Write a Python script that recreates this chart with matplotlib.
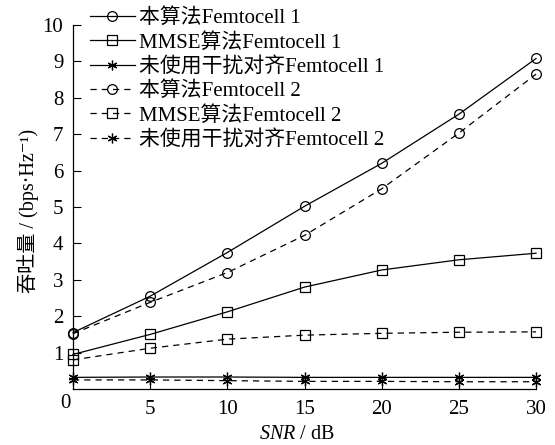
import matplotlib
matplotlib.use('Agg')
import matplotlib.pyplot as plt
from matplotlib.transforms import offset_copy

plt.rcParams['font.family'] = ['Liberation Serif', 'Noto Sans CJK SC', 'DejaVu Serif']
plt.rcParams['mathtext.fontset'] = 'custom'
plt.rcParams['mathtext.it'] = 'Liberation Serif:italic'
plt.rcParams['mathtext.rm'] = 'Liberation Serif'

snr = [0, 5, 10, 15, 20, 25, 30]
prop_f1 = [1.55, 2.55, 3.75, 5.02, 6.20, 7.55, 9.08]
mmse_f1 = [0.95, 1.50, 2.12, 2.80, 3.27, 3.55, 3.73]
none_f1 = [0.32, 0.33, 0.33, 0.32, 0.32, 0.32, 0.32]
prop_f2 = [1.52, 2.38, 3.20, 4.22, 5.50, 7.03, 8.65]
mmse_f2 = [0.80, 1.12, 1.37, 1.48, 1.53, 1.56, 1.57]
none_f2 = [0.25, 0.25, 0.23, 0.21, 0.21, 0.20, 0.20]

labels = ['本算法Femtocell 1', 'MMSE算法Femtocell 1', '未使用干扰对齐Femtocell 1',
          '本算法Femtocell 2', 'MMSE算法Femtocell 2', '未使用干扰对齐Femtocell 2']
xticks = [5, 10, 15, 20, 25, 30]
yticks = [1, 2, 3, 4, 5, 6, 7, 8, 9, 10]

fig = plt.figure(figsize=(5.55, 4.45), dpi=100)
ax = fig.add_axes([0.1315, 0.1258, 0.8343, 0.818])

series = [prop_f1, mmse_f1, none_f1, prop_f2, mmse_f2, none_f2]
markers = ['o', 's', (6, 2, 0), 'o', 's', (6, 2, 0)]
styles = ['-', '-', '-', (0, (5, 4)), (0, (5, 4)), (0, (5, 4))]
msizes = [7, 7, 7, 7, 7, 7]
for ys, mk, ls, ms, lab in zip(series, markers, styles, msizes, labels):
    ax.plot(snr, ys, color='black', linestyle=ls, linewidth=0.9, marker=mk,
            markersize=ms, markerfacecolor='none', markeredgecolor='black',
            markeredgewidth=0.9, label=lab, clip_on=False)

ax.set_xlim(0, 30)
ax.set_ylim(0, 10)
ax.set_xticks(xticks)
ax.set_yticks(yticks)
ax.spines['top'].set_visible(False)
ax.spines['right'].set_visible(False)
for s in ['left', 'bottom']:
    ax.spines[s].set_linewidth(0.9)
ax.tick_params(axis='both', direction='in', length=6, width=0.8, labelsize=15)
ax.tick_params(axis='x', pad=8)
ax.tick_params(axis='y', pad=7)

ax.text(0, 0, '0', fontsize=15, ha='center', va='top',
        transform=offset_copy(ax.transData, fig=fig, x=-8, y=-5, units='dots'))

ax.set_ylabel('吞吐量 / (bps·Hz⁻¹)', fontsize=14.5)
ax.yaxis.set_label_coords(-0.073, 0.49)
ax.set_xlabel('$SNR$ / dB', fontsize=14.5)
ax.xaxis.set_label_coords(0.484, -0.100)

ax.legend(loc='upper left', bbox_to_anchor=(0.036, 1.045), frameon=False,
          fontsize=15, handlelength=2.16, handletextpad=0.2, labelspacing=0.22,
          borderaxespad=0, borderpad=0)

fig.savefig('out.png', dpi=100)
